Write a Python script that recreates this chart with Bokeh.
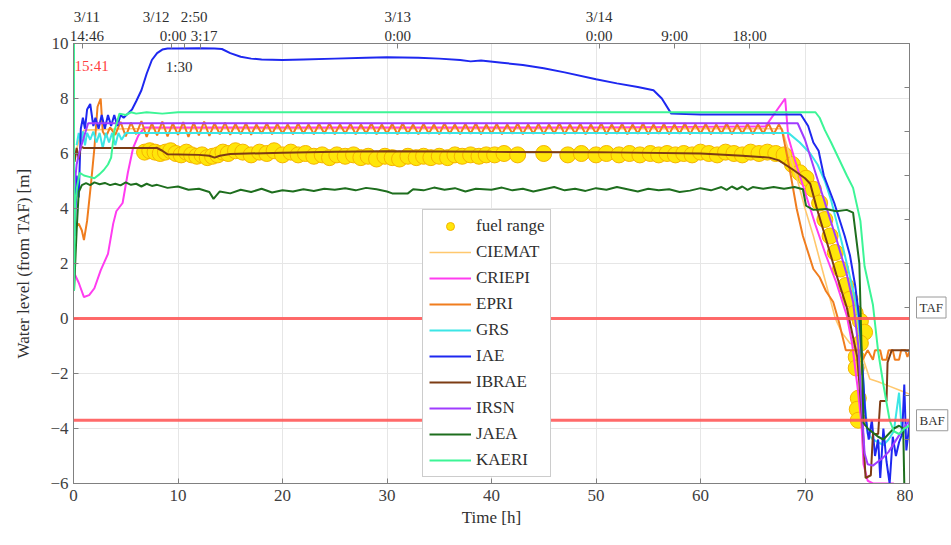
from bokeh.plotting import figure
from bokeh.layouts import row
from bokeh.models import Range1d, LinearAxis, FixedTicker, Label, Legend, LegendItem, Span
from bokeh.embed import file_html
from bokeh.resources import INLINE

FONT = "Liberation Serif"

# ---------------- data ----------------
x_ticks = [0, 10, 20, 30, 40, 50, 60, 70, 80]
y_ticks = [-6, -4, -2, 0, 2, 4, 6, 8, 10]
right_ticks = [-6, -4.4, -2.8, -1.2, 0.4, 2.0, 3.6, 5.2, 6.8, 8.4, 10]
top_ticks = [0.87, 9.34, 10.6, 12.2, 31.0, 50.3, 57.5, 64.7]
top_line1 = {1.28: "3/11", 7.9: "3/12", 11.55: "2:50", 31.03: "3/13", 50.3: "3/14"}
top_line2 = {1.28: "14:46", 9.53: "0:00", 12.5: "3:17", 31.03: "0:00", 50.3: "0:00",
             57.52: "9:00", 64.7: "18:00"}
ref_levels = [0.0, -3.7]
ref_names = ["TAF", "BAF"]
ref_label_y = [0.4, -3.7]

fuel = [(6.8,6.05),(7.3,6.1),(7.8,6.05),(8.3,6.0),(8.8,6.05),(9.3,6.1),(9.8,6.0),(10.3,5.95),
        (10.8,6.05),(11.3,5.95),(11.8,5.9),(12.3,5.95),(12.8,5.85),(13.3,5.9),(13.8,5.95),(14.3,6.05),
        (14.8,6.0),(15.5,6.1),(16.2,6.05),(17.0,5.95),(17.8,6.05),(18.5,6.0),(19.2,6.1),(20.0,5.95),
        (20.8,6.05),(21.5,5.95),(22.2,6.0),(23.0,5.9),(23.8,5.95),(24.5,5.85),(25.2,5.95),(26.0,5.9),
        (26.8,5.95),(27.5,5.85),(28.2,5.9),(29.0,5.8),(29.8,5.9),(30.5,5.85),(31.2,5.8),(32.0,5.9),
        (32.8,5.85),(33.5,5.9),(34.2,5.85),(35.0,5.9),(35.8,5.85),(36.5,5.95),(37.2,5.9),(38.0,5.95),
        (38.8,5.9),(39.5,5.95),(40.3,5.95),(41.2,6.0),(42.5,5.95),(45.0,6.0),(47.3,5.95),(48.6,6.0),
        (50.0,5.95),(51.0,6.0),(52.2,5.95),(53.2,6.0),(54.2,5.95),(55.2,6.0),(56.0,5.95),(56.8,6.0),
        (57.6,5.95),(58.4,6.0),(59.2,5.95),(60.0,6.05),(60.8,6.0),(61.6,5.95),(62.4,6.05),(63.2,6.0),
        (64.0,5.95),(64.8,6.05),(65.6,6.0),(66.4,6.05),(67.2,6.0),(68.0,5.95),(68.8,5.6),(69.5,5.3),
        (70.1,5.1),(70.8,4.7),(71.4,4.2),(71.9,3.6),(72.4,3.0),(72.9,2.4),(73.4,1.8),(73.9,1.2),
        (74.3,0.7),(74.8,0.2),(75.3,-0.1),(75.7,-0.5),(75.3,-0.9),(74.9,-1.4),(74.9,-1.8),(75.1,-2.9),
        (75.0,-3.3),(75.1,-3.7)]

ciemat = [(0.2,6.0),(0.6,6.6),(1.0,6.85),(5.0,6.9),(30.0,6.9),(60.0,6.9),(67.8,6.9),(68.5,6.0),
          (69.3,5.0),(70.0,4.0),(70.8,3.0),(71.5,2.0),(72.2,1.0),(72.9,0.0),(73.5,-0.5),(74.3,-0.9),
          (75.0,-1.0),(75.6,-1.5),(76.2,-2.2),(77.0,-2.3),(78.0,-2.45),(79.0,-2.6),(80.0,-2.75)]

criepi = [(0.05,2.4),(0.13,1.6),(0.5,1.3),(1.0,0.78),(1.5,0.85),(2.0,1.1),(2.6,1.75),(3.3,2.35),
          (3.8,3.45),(4.1,3.9),(4.7,4.2),(5.2,5.3),(5.7,6.2),(6.2,6.65),(6.8,6.95),(10.0,6.95),
          (30.0,6.95),(50.0,6.95),(66.2,6.98),(68.1,8.0),(68.4,6.6),(69.0,5.8),(70.0,4.6),(71.0,3.4),
          (72.0,2.3),(73.0,1.3),(74.0,0.1),(74.5,-0.9),(75.0,-2.4),(75.4,-3.8),(75.6,-5.3),(76.0,-5.9),
          (76.5,-6.0),(78.5,-6.0)]

epri_start = [(0.2,3.3),(0.5,3.45),(0.8,3.2),(1.0,2.85),(1.3,3.55),(1.7,5.0),(2.0,6.2),(2.3,7.7),
              (2.6,8.0),(2.8,6.8),(3.1,6.6),(3.5,6.95)]
epri_comb = [(4.0,6.68),(4.5,7.15),(5.0,6.62),(5.5,7.12),(6.0,6.7),(6.5,7.18),(7.0,6.6),(7.5,7.1),
             (8.0,6.66),(8.5,7.16),(9.0,6.62),(9.5,7.1),(10.0,6.68),(10.5,7.14),(11.0,6.6),(11.5,7.12),
             (12.0,6.66),(12.5,7.16),(13.0,6.64),(13.5,7.1),(14.0,6.7),(14.5,7.12),(15.0,6.68),(15.5,7.08),
             (16.0,6.7),(16.5,7.1),(17.0,6.68),(17.5,7.06),(18.0,6.72),(18.5,7.1),(19.0,6.7),(19.5,7.08),
             (20.0,6.72),(20.5,7.06),(21.0,6.7),(21.5,7.1),(22.0,6.72),(22.5,7.06),(23.0,6.7),(23.5,7.08),
             (24.0,6.72),(24.5,7.1),(25.0,6.7),(25.5,7.06),(26.0,6.72),(26.5,7.08),(27.0,6.7),(27.5,7.06),
             (28.0,6.72),(28.5,7.1),(29.0,6.7),(29.5,7.06),(30.0,6.72),(30.5,7.08),(31.0,6.7),(31.5,7.1),
             (32.0,6.72),(32.5,7.06),(33.0,6.7),(33.5,7.08),(34.0,6.72),(34.5,7.06),(35.0,6.7),(35.5,7.1),
             (36.0,6.72),(36.5,7.06),(37.0,6.7),(37.5,7.08),(38.0,6.72),(38.5,7.1),(39.0,6.7),(39.5,7.06),
             (40.0,6.72),(40.5,7.08),(41.0,6.7),(41.5,7.06),(42.0,6.72),(42.5,7.1),(43.0,6.7),(43.5,7.06),
             (44.0,6.72),(44.5,7.08),(45.0,6.7),(45.5,7.06),(46.0,6.72),(46.5,7.1),(47.0,6.7),(47.5,7.06),
             (48.0,6.72),(48.5,7.08),(49.0,6.7),(49.5,7.06),(50.0,6.72),(50.5,7.1),(51.0,6.7),(51.5,7.06),
             (52.0,6.72),(52.5,7.08),(53.0,6.7),(53.5,7.06),(54.0,6.72),(54.5,7.1),(55.0,6.7),(55.5,7.06),
             (56.0,6.72),(56.5,7.08),(57.0,6.7),(57.5,7.06),(58.0,6.72),(58.5,7.1),(59.0,6.7),(59.5,7.06),
             (60.0,6.72),(60.5,7.08),(61.0,6.7),(61.5,7.06),(62.0,6.72),(62.5,7.1),(63.0,6.7),(63.5,7.06),
             (64.0,6.72),(64.5,7.08),(65.0,6.7),(65.5,7.06),(66.0,6.72),(66.5,7.1),(67.0,6.7),(67.5,7.06)]
epri_end = [(67.8,6.85),(68.5,5.5),(69.2,4.0),(69.8,3.0),(70.3,2.4),(70.8,1.8),(71.4,1.5),(72.0,1.0),
            (72.7,0.6),(73.3,-0.2),(73.9,-1.15),(74.5,-1.15),(75.2,-1.15),(75.5,-1.5),(76.0,-1.15),
            (76.5,-1.5),(76.7,-1.15),(77.2,-1.15),(77.4,-1.5),(77.8,-1.5),(78.0,-1.15),(78.4,-1.15),
            (78.6,-1.5),(79.0,-1.5),(79.2,-1.15),(79.6,-1.15),(79.8,-1.4),(80.0,-1.2)]

grs = [(0.3,6.3),(0.5,6.75),(0.7,6.4),(0.9,6.8),(1.1,6.3),(1.3,6.75),(1.6,6.5),(1.9,6.8),(2.2,6.4),
       (2.5,6.75),(2.8,6.2),(3.1,6.75),(3.4,6.4),(3.7,6.75),(4.0,6.3),(4.3,6.75),(4.6,6.5),(5.0,6.75),
       (10.0,6.75),(30.0,6.75),(50.0,6.75),(68.4,6.75),(69.5,6.4),(70.5,6.0),(71.2,5.6),(71.9,5.0),
       (72.5,4.3),(73.0,3.55),(73.5,2.8),(74.0,2.0),(74.5,1.2),(75.0,0.3),(75.4,-1.2),(75.7,-3.0),
       (76.0,-4.2),(76.5,-4.4),(77.0,-4.5),(77.5,-4.6),(78.0,-4.4),(78.5,-4.1),(79.0,-2.7),(79.3,-4.3),
       (79.7,-3.9),(80.0,-4.0)]

iae = [(0.1,3.0),(0.3,5.2),(0.5,4.4),(0.7,6.9),(0.9,7.3),(1.1,6.9),(1.3,7.6),(1.6,7.8),(1.9,7.0),
       (2.1,7.3),(2.4,6.9),(2.7,7.4),(3.0,6.9),(3.3,7.4),(3.6,7.0),(3.9,7.4),(4.2,7.0),(4.5,7.4),
       (4.8,7.3),(5.2,7.45),(5.6,7.6),(6.0,7.9),(6.5,8.3),(7.0,8.9),(7.5,9.4),(8.0,9.65),(8.5,9.78),
       (9.0,9.82),(10.0,9.82),(12.0,9.83),(13.5,9.82),(14.2,9.8),(15.0,9.65),(16.0,9.52),(17.0,9.45),
       (18.0,9.42),(20.0,9.4),(22.0,9.42),(25.0,9.45),(28.0,9.48),(30.0,9.5),(33.0,9.48),(35.0,9.45),
       (37.0,9.4),(38.0,9.35),(39.0,9.38),(41.0,9.3),(43.0,9.22),(45.0,9.1),(47.0,8.95),(50.0,8.7),
       (52.0,8.55),(54.0,8.42),(55.5,8.3),(56.3,8.0),(57.2,7.45),(60.0,7.42),(65.0,7.42),(69.6,7.42),
       (70.3,7.0),(70.8,6.4),(71.3,6.1),(71.8,5.2),(72.3,4.7),(72.8,4.2),(73.3,3.6),(73.8,3.0),
       (74.3,2.3),(74.8,1.2),(75.2,0.0),(75.5,-1.8),(75.8,-3.6),(76.1,-4.4),(76.4,-3.7),(76.7,-5.0),
       (77.0,-4.4),(77.2,-5.8),(77.5,-4.0),(77.8,-5.2),(78.1,-6.0),(78.4,-4.3),(78.7,-5.0),(79.0,-4.5),
       (79.3,-4.2),(79.5,-2.4),(79.7,-4.8),(80.0,-3.8)]

ibrae = [(0.1,5.7),(0.3,6.2),(0.5,5.8),(0.7,6.25),(1.0,6.2),(8.0,6.2),(8.5,6.1),(9.0,5.97),(12.0,5.95),
         (13.0,5.92),(13.5,5.85),(14.0,5.92),(15.0,5.98),(20.0,6.03),(25.0,6.06),(30.0,6.08),(40.0,6.06),
         (50.0,6.05),(60.0,6.0),(64.0,5.92),(66.6,5.85),(67.5,5.75),(68.9,5.4),(70.0,5.1),(70.5,4.9),
         (71.1,4.05),(72.0,2.9),(73.0,1.6),(74.0,0.4),(75.0,-1.4),(75.5,-3.8),(75.8,-5.8),(76.3,-5.7),
         (76.5,-4.2),(77.0,-4.2),(77.2,-3.0),(77.8,-3.0),(77.9,-1.6),(78.3,-1.15),(80.0,-1.15)]

irsn = [(0.1,4.8),(0.3,5.6),(0.6,6.1),(1.0,6.6),(1.4,7.1),(5.0,7.1),(20.0,7.1),(40.0,7.1),(60.0,7.1),
        (69.3,7.1),(70.0,6.5),(71.0,5.3),(72.0,4.1),(73.0,2.9),(74.0,1.6),(74.6,0.6),(75.1,-1.0),
        (75.4,-3.0),(75.7,-4.9),(76.0,-5.3),(76.5,-5.35),(77.0,-5.2),(77.5,-5.05),(78.0,-4.85),
        (78.5,-4.55),(79.0,-4.25),(79.5,-3.95),(80.0,-3.7)]

jaea = [(0.05,1.0),(0.3,3.2),(0.5,4.6),(0.8,4.85),(1.2,4.92),(1.6,4.85),(2.0,4.95),(2.5,4.88),(3.0,4.93),
        (3.5,4.85),(4.0,4.9),(4.5,4.84),(5.0,4.95),(5.5,4.86),(6.0,4.9),(6.5,4.8),(7.0,4.9),(7.5,4.82),
        (8.0,4.86),(9.0,4.75),(10.0,4.8),(11.0,4.68),(12.0,4.72),(13.0,4.6),(13.4,4.35),(14.0,4.62),
        (15.0,4.55),(16.0,4.68),(17.0,4.6),(18.0,4.72),(19.0,4.58),(20.0,4.66),(21.0,4.62),(22.0,4.7),
        (23.0,4.64),(24.0,4.72),(25.0,4.68),(26.0,4.74),(27.0,4.66),(28.0,4.75),(29.0,4.7),(30.0,4.62),
        (30.5,4.55),(32.0,4.55),(32.5,4.7),(33.5,4.66),(34.5,4.76),(35.5,4.68),(36.5,4.74),(37.5,4.62),
        (38.5,4.72),(40.0,4.68),(41.0,4.76),(42.0,4.66),(43.0,4.72),(44.0,4.62),(45.0,4.7),(46.0,4.78),
        (47.0,4.66),(48.0,4.72),(49.0,4.64),(50.0,4.74),(51.0,4.68),(52.0,4.78),(53.0,4.7),(54.0,4.62),
        (55.0,4.72),(56.0,4.66),(57.0,4.7),(58.0,4.6),(59.0,4.65),(60.0,4.74),(61.0,4.66),(62.0,4.78),
        (62.5,4.68),(63.0,4.8),(63.5,4.7),(64.0,4.8),(64.5,4.68),(65.0,4.78),(66.0,4.72),(67.0,4.78),
        (68.0,4.72),(69.0,4.78),(69.8,4.7),(70.1,4.1),(70.8,3.95),(72.0,3.98),(73.0,3.9),(74.0,3.95),
        (74.6,3.85),(75.2,2.0),(75.6,-3.8),(76.0,-4.0),(76.5,-4.15),(77.0,-4.3),(77.5,-4.4),(78.0,-4.2),
        (78.5,-4.0),(79.0,-3.9),(79.4,-4.0),(79.5,-6.0)]

kaeri = [(0.05,10.0),(0.05,1.0),(0.15,4.2),(0.35,4.8),(0.6,5.3),(1.0,5.2),(1.5,5.15),(2.0,5.1),(2.5,5.25),
         (2.9,5.4),(3.3,5.6),(3.6,5.85),(3.9,6.8),(4.4,7.45),(5.0,7.4),(5.5,7.5),(6.0,7.45),(7.0,7.5),
         (8.5,7.45),(10.0,7.5),(20.0,7.5),(30.0,7.5),(40.0,7.5),(50.0,7.5),(60.0,7.5),(71.0,7.5),
         (71.4,7.3),(71.9,6.85),(72.5,6.4),(73.0,6.0),(73.5,5.6),(74.0,5.2),(74.6,4.75),(75.3,3.55),
         (75.7,1.9),(76.1,1.2),(76.5,0.5),(77.0,-1.2),(77.5,-2.4),(78.1,-3.7),(78.5,-4.1),(79.0,-4.2),
         (79.5,-4.0),(80.0,-3.9)]

series = [
    ("CIEMAT", ciemat, "#FFC86E", 1.6),
    ("CRIEPI", criepi, "#FF3CF0", 2.0),
    ("EPRI", epri_start + epri_comb + epri_end, "#F07D1E", 2.0),
    ("GRS", grs, "#3CE6E6", 2.0),
    ("IAE", iae, "#1E28F0", 2.0),
    ("IBRAE", ibrae, "#7D3C14", 2.0),
    ("IRSN", irsn, "#A03CFF", 2.0),
    ("JAEA", jaea, "#1E6E1E", 2.0),
    ("KAERI", kaeri, "#3CF596", 2.0),
]

GRAY = "#808080"
TXT = "#303030"

# ---------------- main figure ----------------
p = figure(width=913, height=545, x_range=Range1d(0, 80), y_range=Range1d(-6, 10),
           output_backend="svg", toolbar_location=None,
           min_border_left=73, min_border_right=4, min_border_top=43, min_border_bottom=62)
p.background_fill_color = "white"
p.border_fill_color = "white"
p.outline_line_color = GRAY

p.xaxis.ticker = FixedTicker(ticks=x_ticks)
p.yaxis.ticker = FixedTicker(ticks=y_ticks)
p.xgrid.ticker = FixedTicker(ticks=x_ticks)
p.ygrid.ticker = FixedTicker(ticks=y_ticks)
p.grid.grid_line_color = "#e6e6e6"
p.grid.grid_line_width = 1

for ax in (p.xaxis[0], p.yaxis[0]):
    ax.major_tick_in = 5
    ax.major_tick_out = 0
    ax.minor_tick_line_color = None
    ax.axis_line_color = GRAY
    ax.major_tick_line_color = GRAY
    ax.major_label_text_font = FONT
    ax.major_label_text_font_size = "17px"
    ax.major_label_text_color = "#404040"
    ax.axis_label_text_font = FONT
    ax.axis_label_text_font_size = "17px"
    ax.axis_label_text_font_style = "normal"
    ax.axis_label_text_color = TXT
p.xaxis.axis_label = "Time [h]"
p.yaxis.axis_label = "Water level (from TAF) [m]"
p.xaxis.major_label_standoff = 6
p.xaxis.axis_label_standoff = 4
p.yaxis.major_label_standoff = 5
p.yaxis.axis_label_standoff = 14


def tick_only_axis(ticks):
    return LinearAxis(ticker=FixedTicker(ticks=ticks),
                      major_label_overrides={t: "" for t in ticks},
                      major_label_text_font_size="1px", major_label_standoff=0,
                      major_tick_in=5, major_tick_out=0, minor_tick_line_color=None,
                      axis_line_color=GRAY, major_tick_line_color=GRAY)


# top: tick-only axis (innermost), then two rows of time labels
p.add_layout(tick_only_axis(top_ticks), "above")
for labels in (top_line2, top_line1):
    lab_axis = LinearAxis(ticker=FixedTicker(ticks=list(labels.keys())),
                          major_label_overrides=dict(labels),
                          major_label_text_font=FONT, major_label_text_font_size="15px",
                          major_label_text_color=TXT, major_label_standoff=0,
                          axis_line_color=None, major_tick_line_color=None,
                          minor_tick_line_color=None, major_tick_in=0, major_tick_out=0)
    p.add_layout(lab_axis, "above")

# right: tick-only axis
p.add_layout(tick_only_axis(right_ticks), "right")

# reference levels
for lvl in ref_levels:
    p.add_layout(Span(location=lvl, dimension="width", line_color="#FF5A5A", line_width=3, line_alpha=0.9))

# fuel range
fx = [a for a, b in fuel]
fy = [b for a, b in fuel]
fuel_r = p.scatter(fx, fy, size=16, fill_color="#FFE60A", line_color="#F5B400", line_width=1)

items = [LegendItem(label="fuel range", renderers=[fuel_r])]
for name, pts, col, lw in series:
    xs = [a for a, b in pts]
    ys = [b for a, b in pts]
    r = p.line(xs, ys, line_color=col, line_width=lw)
    items.append(LegendItem(label=name, renderers=[r]))

legend = Legend(items=items, location=(349, 6))
legend.label_text_font = FONT
legend.label_text_font_size = "17px"
legend.label_text_color = TXT
legend.label_height = 20
legend.glyph_height = 20
legend.glyph_width = 42
legend.spacing = 6
legend.padding = 6
legend.margin = 0
legend.label_standoff = 5
legend.border_line_color = "#9a9a9a"
legend.background_fill_alpha = 1.0
p.add_layout(legend)

# in-plot annotations
p.add_layout(Label(x=0.1, y=9.2, text="15:41", text_align="left", text_baseline="middle",
                   text_font=FONT, text_font_size="15px", text_color="#FF4040"))
p.add_layout(Label(x=10.1, y=9.16, text="1:30", text_align="center", text_baseline="middle",
                   text_font=FONT, text_font_size="15px", text_color=TXT))

# ---------------- side strip with the TAF / BAF boxes ----------------
side = figure(width=38, height=545, x_range=Range1d(0, 38), y_range=p.y_range,
              output_backend="svg", toolbar_location=None,
              x_axis_location=None, y_axis_location=None,
              min_border_left=0, min_border_right=0, min_border_top=43, min_border_bottom=62)
side.outline_line_color = None
side.background_fill_color = "white"
side.border_fill_color = "white"
side.grid.grid_line_color = None
for name, yv in zip(ref_names, ref_label_y):
    side.add_layout(Label(x=3, y=yv, text=name, text_align="left", text_baseline="middle",
                          text_font=FONT, text_font_size="13px", text_color=TXT,
                          border_line_color="#9a9a9a", background_fill_color="white", padding=3))

layout = row(p, side)
open("out.html", "w").write(file_html(layout, INLINE))
